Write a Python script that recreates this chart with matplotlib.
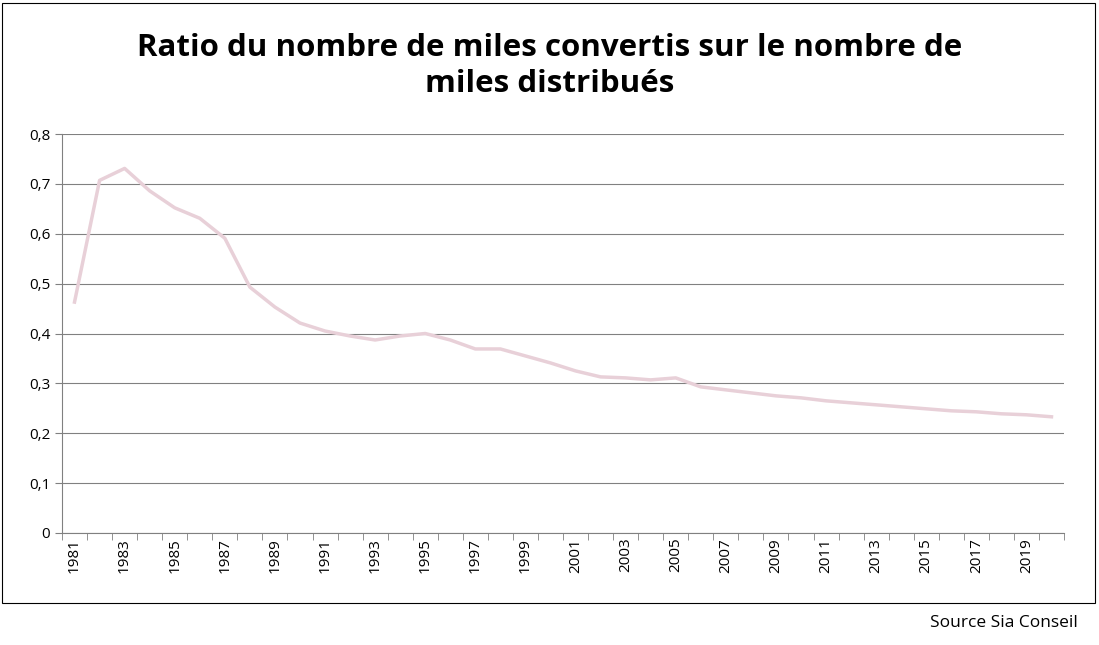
import matplotlib
matplotlib.use("Agg")
import matplotlib.pyplot as plt
from matplotlib.patches import Rectangle

years = list(range(1981, 2021))
ratio = [0.463, 0.707, 0.731, 0.686, 0.652, 0.631, 0.591, 0.493, 0.453, 0.421,
         0.405, 0.395, 0.387, 0.395, 0.400, 0.387, 0.369, 0.369, 0.355, 0.341,
         0.325, 0.313, 0.311, 0.307, 0.311, 0.293, 0.287, 0.281, 0.275, 0.271,
         0.265, 0.261, 0.257, 0.253, 0.249, 0.245, 0.243, 0.239, 0.237, 0.233]
yticks = [0, 0.1, 0.2, 0.3, 0.4, 0.5, 0.6, 0.7, 0.8]
ylabels = ["0", "0,1", "0,2", "0,3", "0,4", "0,5", "0,6", "0,7", "0,8"]

plt.rcParams['font.family'] = ['Open Sans', 'DejaVu Sans']
fig = plt.figure(figsize=(10.99, 6.45), dpi=100)
fig.patches.append(Rectangle((0.002, 0.065), 0.994, 0.93, transform=fig.transFigure,
                             fill=False, edgecolor='black', linewidth=0.8))
ax = fig.add_axes([62/1099, 1-533/645, (1064-62)/1099, (533-134)/645])
x = list(range(len(years)))
ax.plot(x, ratio, color='#e8d0d8', linewidth=2.5)
ax.set_xlim(-0.5, len(years) - 0.5)
ax.set_ylim(0, 0.8)
ax.set_yticks(yticks)
ax.set_yticklabels(ylabels, fontsize=11)
ax.set_xticks(x[::2])
ax.set_xticklabels([str(y) for y in years[::2]], rotation=90, fontsize=11)
ax.set_xticks([i - 0.5 for i in range(len(years) + 1)], minor=True)
ax.tick_params(axis='x', which='major', length=0)
ax.tick_params(axis='x', which='minor', length=5, color='#808080')
ax.tick_params(axis='y', length=5, color='#808080')
ax.grid(axis='y', color='#808080', linewidth=0.8)
ax.set_axisbelow(True)
for s in ['top', 'right']:
    ax.spines[s].set_visible(False)
for s in ['left', 'bottom']:
    ax.spines[s].set_color('#808080')
fig.text(0.5, 1-66/645, "Ratio du nombre de miles convertis sur le nombre de\nmiles distribués",
         ha='center', va='center', fontsize=22.5, fontweight='bold', linespacing=1.25)
fig.text(1078/1099, 1-623/645, "Source Sia Conseil", ha='right', va='center', fontsize=12.5)
fig.savefig("out.png", dpi=100)
